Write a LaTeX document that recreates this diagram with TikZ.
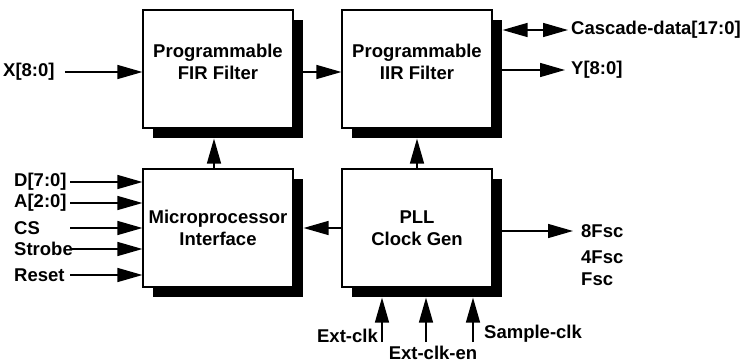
\documentclass[tikz,border=0pt]{standalone}
\usepackage{fontspec}
\setmainfont{Liberation Sans}
\usetikzlibrary{positioning,arrows.meta,shadows}

\begin{document}
\begin{tikzpicture}[x=1pt, y=-1pt, font=\fontsize{18.5}{22}\selectfont\bfseries,
  blk/.style={draw, line width=1.2pt, fill=white, minimum width=150pt, minimum height=118pt, align=center, inner sep=0pt,
    drop shadow={shadow xshift=10pt, shadow yshift=-10pt, fill=black, opacity=1}},
  lbl/.style={inner sep=0pt},
  arr/.style={line width=1.5pt, -{Triangle[length=25pt,width=14pt]}},
  dbl/.style={line width=1.5pt, {Triangle[length=25pt,width=14pt]}-{Triangle[length=25pt,width=14pt]}}]
\useasboundingbox (0,0) rectangle (748,364);
% blocks
\node[blk, text depth=14pt] (fir) at (218,69) {Programmable\\FIR Filter};
\node[blk, text depth=14pt] (iir) at (417,69) {Programmable\\IIR Filter};
\node[blk] (mpi) at (218,228) {Microprocessor\\Interface};
\node[blk] (pll) at (417,228) {PLL\\Clock Gen};
\coordinate (pllsh) at ([yshift=-10pt]pll.south);
% data path
\node[lbl, anchor=west] (xin) at (3,72) {X[8:0]};
\draw[arr, shorten <=10pt] (xin.east) -- (fir.west |- xin.east);
\draw[arr] (fir.east |- xin.east) -- (iir.west |- xin.east);
\node[lbl, anchor=west] (cas) at (571,30) {Cascade-data[17:0]};
\draw[dbl, shorten >=3pt] ([xshift=10pt]iir.east |- cas.west) -- (cas.west);
\node[lbl, anchor=west] (yout) at (571,70) {Y[8:0]};
\draw[arr, shorten >=6pt] (iir.east |- yout.west) -- (yout.west);
\draw[arr] ([xshift=-4pt]mpi.north) -- ([xshift=-4pt,yshift=-10pt]fir.south);
\draw[arr] (pll.north) -- ([yshift=-10pt]iir.south);
% processor port
\foreach \lab/\yy [count=\i] in {{D[7:0]}/182, {A[2:0]}/203, CS/228, Strobe/249, Reset/275} {
  \node[lbl, anchor=west] (in\i) at (14,\yy) {\lab};
  \coordinate (s\i) at (70,\yy);
  \draw[arr] (s\i) -- (mpi.west |- s\i);
}
\draw[arr] (pll.west) -- ([xshift=10pt]mpi.east);
% clocks
\node[lbl, anchor=west] (f8) at (581,231) {8Fsc};
\node[lbl, anchor=west] (f4) at (581,257) {4Fsc};
\node[lbl, anchor=west] (f1) at (581,279) {Fsc};
\draw[arr, shorten >=8pt] (pll.east |- f8.west) -- (f8.west);
\node[lbl, anchor=east] (eck) at (378,336) {Ext-clk};
\node[lbl] (ecen) at (433,353) {Ext-clk-en};
\node[lbl, anchor=west] (sck) at (484,334) {Sample-clk};
\foreach \xx [count=\i] in {382,426,473} {
  \coordinate (ck\i) at (\xx,342);
  \draw[arr] (ck\i) -- (ck\i |- pllsh);
}
\end{tikzpicture}
\end{document}
